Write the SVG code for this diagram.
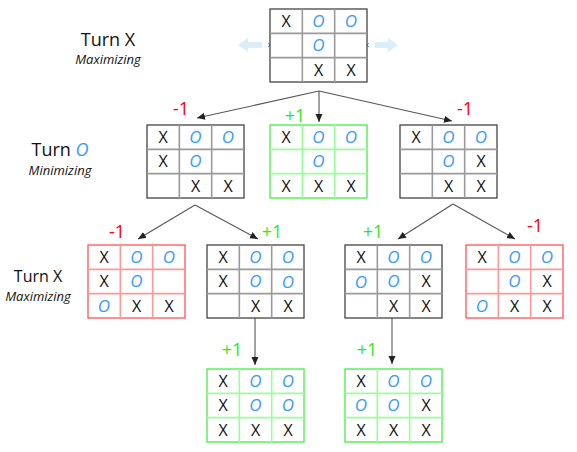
<svg xmlns="http://www.w3.org/2000/svg" xmlns:xlink="http://www.w3.org/1999/xlink" width="577" height="452" viewBox="0 0 577 452">
<style>
text{font-family:"Open Sans","DejaVu Sans",sans-serif}
.x{font-size:16px;fill:#111;text-anchor:middle}
.o{font-size:17px;font-style:italic;fill:#3d9bf5;text-anchor:middle}
.frame{fill:#fff;stroke-width:1.3}
.inner{fill:none;stroke-width:1.6}
.k .frame{stroke:#444}.k .inner{stroke:#9a9a9a}
.r .frame{stroke:#f55}.r .inner{stroke:#fa9a9a}
.g .frame{stroke:#4e4}.g .inner{stroke:#9f9}
.neg{font-size:18px;fill:#f00;text-anchor:middle}
.pos{font-size:18px;fill:#2e2;text-anchor:middle}
.turn{fill:#111;text-anchor:middle}
.mode{font-style:italic;fill:#111;text-anchor:middle;font-size:13px}
.edge{stroke:#555;stroke-width:1.1;fill:none;marker-end:url(#ah)}
</style>
<defs>
<marker id="ah" markerUnits="userSpaceOnUse" markerWidth="9" markerHeight="8" refX="8" refY="3.5" orient="auto"><path d="M0,0 L8,3.5 L0,7 z" fill="#222"/></marker>
<path id="grid" d="M32.33 0V73M64.67 0V73M0 24.33H97M0 48.67H97"/>
</defs>

<g id="labels">
<text class="turn" x="108" y="46" font-size="18">Turn X</text>
<text class="mode" x="108" y="64">Maximizing</text>
<text class="turn" x="60" y="156" font-size="18">Turn <tspan fill="#3d9bf5" font-style="italic">O</tspan></text>
<text class="mode" x="60" y="175">Minimizing</text>
<text class="turn" x="38" y="282" font-size="16">Turn X</text>
<text class="mode" x="38" y="301">Maximizing</text>
</g>

<g id="hints">
<path d="M238,45 L248,38 L248,42 L262,42 L262,48 L248,48 L248,52 z" fill="#dcedfa"/>
<path d="M398,45 L388,38 L388,42 L375,42 L375,48 L388,48 L388,52 z" fill="#dcedfa"/>
<path d="M268,43 L272,47 M272,43 L268,47 M365,43 L369,47 M369,43 L365,47" stroke="#3d9bf5" stroke-width="1"/>
</g>

<g id="connectors">
<path class="edge" d="M319,91 L197,118"/>
<path class="edge" d="M319,91 L319,122" stroke="#777" stroke-width="1.5"/>
<path class="edge" d="M319,91 L452,121"/>
<path class="edge" d="M195,205 L138,239"/>
<path class="edge" d="M195,205 L258,239"/>
<path class="edge" d="M453,204 L398,239"/>
<path class="edge" d="M453,204 L515,239"/>
<path class="edge" d="M255,318 L255,365" stroke="#777" stroke-width="1.5"/>
<path class="edge" d="M392,318 L392,364" stroke="#777" stroke-width="1.5"/>
</g>

<g id="scores">
<text class="neg" x="181" y="115">-1</text>
<text class="pos" x="295" y="122">+1</text>
<text class="neg" x="465" y="115">-1</text>
<text class="neg" x="117" y="238">-1</text>
<text class="pos" x="272" y="238">+1</text>
<text class="pos" x="373" y="238">+1</text>
<text class="neg" x="535" y="232">-1</text>
<text class="pos" x="232" y="356">+1</text>
<text class="pos" x="367" y="356">+1</text>
</g>

<g id="root" class="k" transform="translate(270,9)">
<rect class="frame" width="97" height="73"/><use href="#grid" class="inner"/>
<text class="x" x="16" y="18">X</text><text class="o" x="48.5" y="18">O</text><text class="o" x="81" y="18">O</text>
<text class="o" x="48.5" y="42">O</text>
<text class="x" x="48.5" y="67">X</text><text class="x" x="81" y="67">X</text>
</g>

<g id="b2a" class="k" transform="translate(147,125)">
<rect class="frame" width="97" height="73"/><use href="#grid" class="inner"/>
<text class="x" x="16" y="18">X</text><text class="o" x="48.5" y="18">O</text><text class="o" x="81" y="18">O</text>
<text class="x" x="16" y="42">X</text><text class="o" x="48.5" y="42">O</text>
<text class="x" x="48.5" y="67">X</text><text class="x" x="81" y="67">X</text>
</g>

<g id="b2b" class="g" transform="translate(270,125)">
<rect class="frame" width="97" height="73"/><use href="#grid" class="inner"/>
<text class="x" x="16" y="18">X</text><text class="o" x="48.5" y="18">O</text><text class="o" x="81" y="18">O</text>
<text class="o" x="48.5" y="42">O</text>
<text class="x" x="16" y="67">X</text><text class="x" x="48.5" y="67">X</text><text class="x" x="81" y="67">X</text>
</g>

<g id="b2c" class="k" transform="translate(400,125)">
<rect class="frame" width="97" height="73"/><use href="#grid" class="inner"/>
<text class="x" x="16" y="18">X</text><text class="o" x="48.5" y="18">O</text><text class="o" x="81" y="18">O</text>
<text class="o" x="48.5" y="42">O</text><text class="x" x="81" y="42">X</text>
<text class="x" x="48.5" y="67">X</text><text class="x" x="81" y="67">X</text>
</g>

<g id="b3a" class="r" transform="translate(88,245)">
<rect class="frame" width="97" height="73"/><use href="#grid" class="inner"/>
<text class="x" x="16" y="18">X</text><text class="o" x="48.5" y="18">O</text><text class="o" x="81" y="18">O</text>
<text class="x" x="16" y="42">X</text><text class="o" x="48.5" y="42">O</text>
<text class="o" x="16" y="67">O</text><text class="x" x="48.5" y="67">X</text><text class="x" x="81" y="67">X</text>
</g>

<g id="b3b" class="k" transform="translate(207,245)">
<rect class="frame" width="97" height="73"/><use href="#grid" class="inner"/>
<text class="x" x="16" y="18">X</text><text class="o" x="48.5" y="18">O</text><text class="o" x="81" y="18">O</text>
<text class="x" x="16" y="42">X</text><text class="o" x="48.5" y="42">O</text><text class="o" x="81" y="43">O</text>
<text class="x" x="48.5" y="67">X</text><text class="x" x="81" y="67">X</text>
</g>

<g id="b3c" class="k" transform="translate(345,245)">
<rect class="frame" width="97" height="73"/><use href="#grid" class="inner"/>
<text class="x" x="16" y="18">X</text><text class="o" x="48.5" y="18">O</text><text class="o" x="81" y="18">O</text>
<text class="o" x="16" y="43">O</text><text class="o" x="48.5" y="42">O</text><text class="x" x="81" y="42">X</text>
<text class="x" x="48.5" y="67">X</text><text class="x" x="81" y="67">X</text>
</g>

<g id="b3d" class="r" transform="translate(466,245)">
<rect class="frame" width="97" height="73"/><use href="#grid" class="inner"/>
<text class="x" x="16" y="18">X</text><text class="o" x="48.5" y="18">O</text><text class="o" x="81" y="18">O</text>
<text class="o" x="48.5" y="42">O</text><text class="x" x="81" y="42">X</text>
<text class="o" x="16" y="67">O</text><text class="x" x="48.5" y="67">X</text><text class="x" x="81" y="67">X</text>
</g>

<g id="b4a" class="g" transform="translate(207,369)">
<rect class="frame" width="97" height="73"/><use href="#grid" class="inner"/>
<text class="x" x="16" y="18">X</text><text class="o" x="48.5" y="18">O</text><text class="o" x="81" y="18">O</text>
<text class="x" x="16" y="42">X</text><text class="o" x="48.5" y="42">O</text><text class="o" x="81" y="42">O</text>
<text class="x" x="16" y="67">X</text><text class="x" x="48.5" y="67">X</text><text class="x" x="81" y="67">X</text>
</g>

<g id="b4b" class="g" transform="translate(345,369)">
<rect class="frame" width="97" height="73"/><use href="#grid" class="inner"/>
<text class="x" x="16" y="18">X</text><text class="o" x="48.5" y="18">O</text><text class="o" x="81" y="18">O</text>
<text class="o" x="16" y="42">O</text><text class="o" x="48.5" y="42">O</text><text class="x" x="81" y="42">X</text>
<text class="x" x="16" y="67">X</text><text class="x" x="48.5" y="67">X</text><text class="x" x="81" y="67">X</text>
</g>
</svg>
